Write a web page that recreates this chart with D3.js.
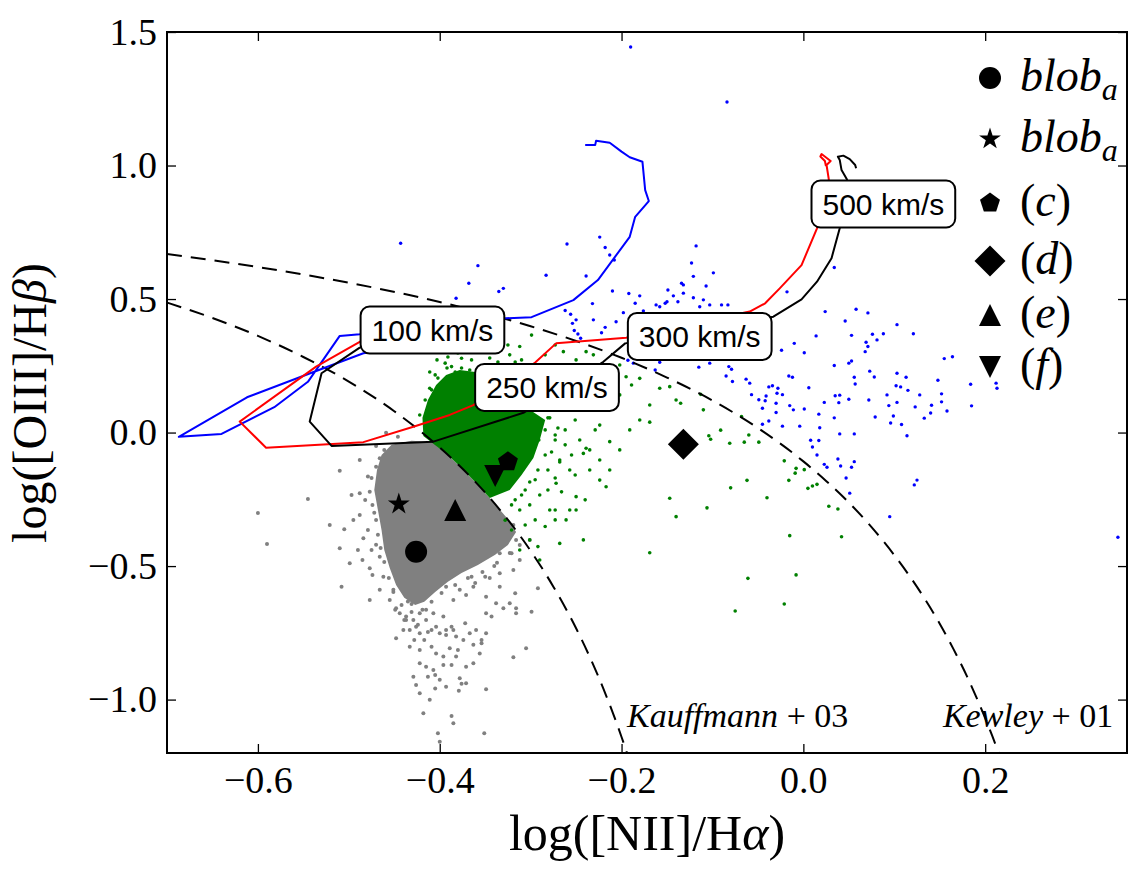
<!DOCTYPE html>
<html>
<head>
<meta charset="utf-8">
<script src="https://cdn.jsdelivr.net/npm/d3@7"></script>
<style>
  body { margin: 0; background: #fff; }
  svg text { font-family: "Liberation Serif", "DejaVu Serif", serif; fill: #000; }
  .vel text { font-family: "Liberation Sans", Arial, sans-serif; }
</style>
</head>
<body>
<svg id="chart" width="1143" height="879"></svg>
<script>
// ---- axis ticks ----
const xTicks = [-0.6, -0.4, -0.2, 0.0, 0.2];
const yTicks = [-1.0, -0.5, 0.0, 0.5, 1.0, 1.5];

// ---- demarcation curves ----
const kauffmann = [[-0.7,0.487],[-0.65,0.429],[-0.6,0.362],[-0.55,0.283],[-0.5,0.191],[-0.45,0.080],
  [-0.4,-0.056],[-0.35,-0.225],[-0.3,-0.443],[-0.275,-0.577],[-0.25,-0.733],[-0.235,-0.840],
  [-0.22,-0.959],[-0.21,-1.046],[-0.2,-1.140],[-0.194,-1.200]];
const kewley = [[-0.7,0.669],[-0.6,0.620],[-0.5,0.561],[-0.4,0.489],[-0.3,0.398],[-0.25,0.343],
  [-0.2,0.280],[-0.15,0.206],[-0.1,0.120],[-0.05,0.017],[0.0,-0.108],[0.025,-0.181],[0.05,-0.262],
  [0.075,-0.354],[0.1,-0.459],[0.125,-0.578],[0.15,-0.716],[0.165,-0.810],[0.18,-0.913],
  [0.19,-0.989],[0.2,-1.069],[0.208,-1.138],[0.215,-1.202]];
const curveNames = ["Kauffmann+03", "Kewley+01"];
const curveLabelX = [-0.194, 0.1535];
const curveLabelY = [-1.102, -1.102];

// ---- shock model tracks ----
const trackBlue = [[-0.240,1.077],[-0.229,1.077],[-0.228,1.093],[-0.213,1.085],[-0.200,1.052],
  [-0.191,1.031],[-0.177,1.014],[-0.174,0.908],[-0.170,0.867],[-0.185,0.808],[-0.191,0.733],
  [-0.226,0.571],[-0.253,0.496],[-0.299,0.432],[-0.327,0.428],[-0.488,0.368],[-0.510,0.362],
  [-0.545,0.190],[-0.582,0.095],[-0.640,-0.005],[-0.687,-0.016],[-0.612,0.132],[-0.541,0.224],
  [-0.484,0.297],[-0.440,0.320]];
const trackRed = [[-0.440,0.370],[-0.488,0.340],[-0.536,0.247],[-0.620,0.041],[-0.591,-0.057],
  [-0.484,-0.036],[-0.429,0.022],[-0.389,0.066],[-0.363,0.103],[-0.295,0.262],[-0.272,0.334],
  [-0.195,0.355],[-0.059,0.453],[-0.042,0.484],[-0.026,0.540],[-0.002,0.627],[0.015,0.765],
  [0.028,0.948],[0.0255,1.002],[0.030,1.017],[0.020,1.043],[0.0187,1.034],[0.0237,1.017],[0.0248,0.998]];
const trackBlack = [[-0.440,0.360],[-0.488,0.318],[-0.530,0.222],[-0.543,0.041],[-0.519,-0.050],
  [-0.407,-0.034],[-0.308,0.074],[-0.220,0.265],[-0.196,0.334],[-0.033,0.434],[-0.002,0.499],
  [0.015,0.565],[0.031,0.653],[0.040,0.765],[0.048,0.948],[0.042,0.983],[0.040,1.021],
  [0.038,1.033],[0.044,1.037],[0.051,1.024],[0.057,1.002],[0.058,0.990]];
const velLabels = ["100 km/s", "250 km/s", "300 km/s", "500 km/s"];
const velX = [-0.408, -0.282, -0.114, 0.088];
const velY = [0.384, 0.169, 0.360, 0.856];

// ---- dense cores of the galaxy clouds (outlines) ----
const grayCore = [[-0.408,-0.035],[-0.431,-0.031],[-0.453,-0.046],[-0.464,-0.084],[-0.469,-0.140],
  [-0.472,-0.215],[-0.468,-0.290],[-0.464,-0.365],[-0.461,-0.440],[-0.455,-0.507],[-0.448,-0.571],
  [-0.439,-0.619],[-0.427,-0.646],[-0.417,-0.634],[-0.405,-0.597],[-0.391,-0.559],[-0.376,-0.526],
  [-0.358,-0.496],[-0.339,-0.458],[-0.325,-0.421],[-0.316,-0.372],[-0.327,-0.316],[-0.345,-0.245],
  [-0.361,-0.185],[-0.377,-0.129],[-0.391,-0.084]];
const greenCore = [[-0.418,-0.013],[-0.419,0.055],[-0.413,0.122],[-0.404,0.178],[-0.393,0.216],
  [-0.378,0.234],[-0.361,0.227],[-0.334,0.103],[-0.301,0.085],[-0.284,0.047],[-0.290,-0.028],
  [-0.297,-0.095],[-0.310,-0.159],[-0.323,-0.215],[-0.345,-0.245],[-0.361,-0.185],[-0.377,-0.129],
  [-0.391,-0.084]];

// ---- individual galaxies ----
const grayPts = [[-0.488,-0.103],[-0.510,-0.143],[-0.545,-0.249],[-0.497,-0.234],[-0.488,-0.227],
  [-0.479,-0.165],[-0.521,-0.346],[-0.505,-0.362],[-0.495,-0.327],[-0.484,-0.396],[-0.510,-0.433],
  [-0.490,-0.440],[-0.475,-0.440],[-0.499,-0.489],[-0.477,-0.508],[-0.508,-0.577],[-0.466,-0.465],
  [-0.462,-0.540],[-0.449,-0.664],[-0.435,-0.633],[-0.448,-0.770],[-0.440,-0.739],[-0.433,-0.802],
  [-0.422,-0.814],[-0.426,-0.727],[-0.415,-0.664],[-0.407,-0.677],[-0.404,-0.727],[-0.396,-0.689],
  [-0.385,-0.627],[-0.371,-0.608],[-0.363,-0.577],[-0.349,-0.615],[-0.334,-0.577],[-0.317,-0.602],
  [-0.316,-0.658],[-0.299,-0.671],[-0.292,-0.583],[-0.334,-0.527],[-0.319,-0.515],[-0.334,-0.452],
  [-0.321,-0.452],[-0.312,-0.477],[-0.327,-0.402],[-0.316,-0.402],[-0.301,-0.402],[-0.319,-0.346],
  [-0.349,-0.465],[-0.393,-0.577],[-0.385,-0.739],[-0.372,-0.714],[-0.393,-0.758],[-0.363,-0.795],
  [-0.354,-0.789],[-0.380,-0.814],[-0.349,-0.752],[-0.319,-0.841],[-0.305,-0.808],[-0.422,-0.864],
  [-0.413,-0.914],[-0.429,-0.914],[-0.426,-0.945],[-0.405,-0.908],[-0.396,-0.870],[-0.387,-0.870],
  [-0.378,-0.920],[-0.376,-0.941],[-0.405,-0.958],[-0.379,-0.967],[-0.349,-0.961],[-0.418,-1.051],
  [-0.387,-1.061],[-0.385,-1.089],[-0.402,-1.126],[-0.400,-1.158],[-0.351,-1.126],[-0.431,-0.642],
  [-0.451,-0.589],[-0.455,-0.627],[-0.437,-0.702],[-0.600,-0.301],[-0.590,-0.417],[-0.459,-0.001],
  [-0.470,-0.050],[-0.472,-0.300],[-0.470,-0.420],[-0.350,-0.540],[-0.340,-0.500],[-0.365,-0.540],
  [-0.461,-0.065],[-0.466,-0.096],[-0.470,-0.128],[-0.475,-0.170],[-0.477,-0.222],[-0.474,-0.271],
  [-0.470,-0.327],[-0.468,-0.383],[-0.465,-0.432],[-0.461,-0.485],[-0.456,-0.545],[-0.451,-0.597],
  [-0.442,-0.646],[-0.431,-0.672],[-0.419,-0.664],[-0.409,-0.634],[-0.398,-0.601],[-0.383,-0.571],
  [-0.369,-0.545],[-0.353,-0.522],[-0.337,-0.488],[-0.323,-0.451],[-0.312,-0.421],[-0.439,-0.702],
  [-0.424,-0.720],[-0.413,-0.747],[-0.378,-0.589],[-0.361,-0.563],[-0.345,-0.545],[-0.446,-0.016],
  [-0.448,-0.658],[-0.444,-0.677],[-0.437,-0.689],[-0.429,-0.702],[-0.422,-0.677],[-0.415,-0.702],
  [-0.409,-0.739],[-0.400,-0.752],[-0.393,-0.739],[-0.387,-0.727],[-0.382,-0.764],[-0.374,-0.777],
  [-0.367,-0.752],[-0.360,-0.739],[-0.354,-0.777],[-0.349,-0.677],[-0.343,-0.689],[-0.338,-0.639],
  [-0.330,-0.658],[-0.323,-0.639],[-0.316,-0.677],[-0.433,-0.739],[-0.428,-0.777],[-0.422,-0.752],
  [-0.417,-0.777],[-0.409,-0.802],[-0.404,-0.827],[-0.396,-0.839],[-0.389,-0.808],[-0.382,-0.839],
  [-0.371,-0.877],[-0.363,-0.864],[-0.356,-0.827],[-0.415,-0.877],[-0.407,-0.889],[-0.400,-0.926],
  [-0.393,-0.952],[-0.371,-0.939],[-0.422,-0.976],[-0.411,-1.001],[-0.482,-0.253],[-0.488,-0.309],
  [-0.479,-0.365],[-0.485,-0.477],[-0.474,-0.533],[-0.466,-0.589],[-0.477,-0.627]];
const greenPts = [[-0.135,0.110],[-0.110,0.085],[-0.113,0.143],[-0.068,0.060],[-0.091,0.009],
  [-0.104,-0.012],[-0.102,-0.025],[-0.081,-0.040],[-0.065,-0.036],[-0.060,-0.009],[-0.049,-0.036],
  [-0.021,-0.106],[-0.008,-0.134],[-0.009,-0.152],[0.001,-0.139],[-0.016,-0.179],[-0.062,-0.179],
  [0.005,-0.209],[0.010,-0.200],[0.015,-0.194],[-0.080,-0.207],[-0.040,-0.244],[-0.106,-0.282],
  [0.028,-0.276],[0.038,-0.286],[-0.015,-0.386],[0.042,-0.390],[-0.061,-0.546],[-0.008,-0.533],
  [-0.075,-0.668],[-0.021,-0.642],[-0.325,0.328],[-0.299,0.365],[-0.264,0.303],[-0.250,0.272],
  [-0.239,0.303],[-0.231,0.291],[-0.202,0.253],[-0.195,0.209],[-0.180,0.203],[-0.189,0.178],
  [-0.158,0.166],[-0.147,0.172],[-0.140,0.122],[-0.169,0.039],[-0.213,-0.034],[-0.239,-0.059],
  [-0.242,-0.078],[-0.257,-0.140],[-0.272,-0.190],[-0.250,-0.240],[-0.217,-0.203],[-0.261,-0.327],
  [-0.250,-0.290],[-0.279,-0.290],[-0.284,-0.352],[-0.268,-0.415],[-0.242,-0.402],[-0.292,-0.427],
  [-0.147,-0.246],[-0.140,-0.315],[-0.169,-0.450],[-0.310,0.272],[-0.400,0.141],[-0.411,0.166],
  [-0.378,0.197],[-0.387,0.247],[-0.376,0.278],[-0.394,0.260],[-0.367,0.322],[-0.312,0.322],
  [-0.301,0.141],[-0.290,0.104],[-0.281,0.055],[-0.284,0.010],[-0.291,-0.028],[-0.273,-0.009],
  [-0.268,-0.103],[-0.281,-0.140],[-0.295,-0.177],[-0.306,-0.215],[-0.317,-0.252],[-0.312,-0.290],
  [-0.301,-0.271],[-0.290,-0.234],[-0.262,0.010],[-0.251,0.047],[-0.235,0.084],[-0.224,0.028],
  [-0.229,0.141],[-0.246,0.178],[-0.262,0.122],[-0.213,0.122],[-0.328,-0.328],[-0.321,-0.365],
  [-0.306,-0.346],[-0.301,-0.402],[-0.312,-0.440],[-0.290,-0.477],[-0.273,-0.327],[-0.235,-0.140],
  [-0.224,-0.103],[-0.202,-0.065],[-0.191,0.010],[-0.180,0.047],[-0.169,0.103],[-0.202,0.141],
  [-0.405,0.216],[-0.416,0.122],[-0.422,0.066],[-0.356,0.328],[-0.339,0.346],[-0.273,0.328],
  [-0.284,0.291],[-0.403,0.272],[-0.398,0.302],[-0.391,0.283],[-0.387,0.317],[-0.380,0.298],
  [-0.375,0.324],[-0.369,0.302],[-0.365,0.272],[-0.392,0.242],[-0.383,0.227],[-0.376,0.242],
  [-0.367,0.234],[-0.402,0.204],[-0.394,0.178],[-0.387,0.197],[-0.378,0.178],[-0.370,0.197],
  [-0.363,0.204],[-0.409,0.160],[-0.358,0.152],[-0.411,0.227],[-0.350,0.309],[-0.345,0.279],
  [-0.336,0.264],[-0.323,0.291],[-0.317,0.264],[-0.273,-0.028],[-0.284,-0.084],[-0.292,-0.140],
  [-0.301,-0.185],[-0.310,-0.234],[-0.321,-0.271],[-0.279,0.055],[-0.270,0.017],[-0.262,-0.046],
  [-0.277,-0.073],[-0.268,-0.110],[-0.255,-0.084],[-0.246,-0.028],[-0.235,-0.065],[-0.251,-0.159],
  [-0.273,-0.170],[-0.281,-0.215],[-0.266,-0.222],[-0.240,-0.252],[-0.224,-0.178],[-0.229,0.010],
  [-0.213,-0.140],[-0.257,-0.290],[-0.273,-0.290],[-0.295,-0.327]];
const bluePts = [[-0.190,1.444],[-0.084,1.238],[-0.443,0.709],[-0.358,0.625],[-0.368,0.559],
  [-0.382,0.503],[-0.335,0.528],[-0.330,0.540],[-0.283,0.589],[-0.260,0.706],[-0.239,0.586],
  [-0.224,0.732],[-0.218,0.693],[-0.213,0.665],[-0.208,0.646],[-0.210,0.530],[-0.192,0.521],
  [-0.232,0.483],[-0.262,0.457],[-0.256,0.443],[-0.254,0.409],[-0.250,0.422],[-0.252,0.382],
  [-0.248,0.369],[-0.245,0.353],[-0.218,0.394],[-0.206,0.415],[-0.222,0.374],[-0.198,0.449],
  [-0.176,0.455],[-0.162,0.478],[-0.231,0.422],[-0.185,0.484],[-0.180,0.512],[-0.158,0.471],
  [-0.152,0.484],[-0.143,0.512],[-0.138,0.490],[-0.132,0.522],[-0.132,0.553],[-0.149,0.534],
  [-0.107,0.549],[-0.110,0.497],[-0.103,0.478],[-0.114,0.471],[-0.187,0.260],[-0.163,0.234],
  [-0.121,0.284],[-0.103,0.260],[-0.118,0.699],[-0.123,0.635],[-0.099,0.598],[-0.121,0.585],
  [-0.134,0.559],[-0.121,0.505],[-0.090,0.478],[-0.083,0.478],[-0.018,0.527],[0.034,0.618],
  [0.024,0.453],[0.058,0.462],[0.071,0.448],[0.046,0.418],[0.103,0.404],[0.121,0.370],
  [0.014,0.362],[0.053,0.364],[0.076,0.368],[0.088,0.370],[0.081,0.347],[0.069,0.338],
  [0.071,0.322],[0.068,0.303],[-0.010,0.334],[-0.024,0.308],[0.001,0.299],[0.155,0.277],
  [0.164,0.284],[0.034,0.251],[0.050,0.260],[0.053,0.268],[0.073,0.230],[0.078,0.208],
  [0.103,0.222],[0.113,0.207],[0.148,0.196],[0.184,0.181],[0.212,0.185],[0.213,0.166],
  [0.056,0.207],[0.057,0.182],[0.006,0.168],[-0.016,0.212],[-0.012,0.207],[-0.082,0.247],
  [-0.079,0.237],[-0.085,0.212],[-0.078,0.191],[-0.115,0.245],[-0.063,0.200],[-0.059,0.185],
  [-0.057,0.142],[-0.049,0.123],[-0.042,0.119],[-0.041,0.137],[-0.038,0.171],[-0.034,0.175],
  [-0.028,0.166],[-0.029,0.147],[-0.023,0.142],[-0.045,0.091],[-0.030,0.110],[-0.030,0.075],
  [-0.038,0.043],[-0.045,0.031],[-0.015,0.101],[-0.011,0.085],[0.001,0.088],[-0.023,0.024],
  [-0.004,0.024],[0.017,0.069],[0.023,0.113],[0.035,0.138],[0.040,0.140],[0.039,0.112],
  [0.050,0.125],[0.034,0.055],[0.018,0.018],[0.040,-0.005],[0.056,-0.005],[0.072,0.122],
  [0.079,0.058],[0.092,0.141],[0.094,0.101],[0.103,0.113],[0.102,0.175],[0.107,0.171],
  [0.115,0.158],[0.099,0.062],[0.096,0.036],[0.108,0.030],[0.114,-0.012],[0.128,0.141],
  [0.123,0.096],[0.141,0.102],[0.140,0.073],[0.133,0.054],[0.152,0.145],[0.152,0.115],
  [0.158,0.081],[0.185,0.100],[0.008,-0.029],[0.017,-0.030],[0.010,-0.054],[0.015,-0.084],
  [0.023,-0.119],[0.026,-0.130],[0.038,-0.099],[0.041,-0.125],[0.056,-0.109],[0.053,-0.130],
  [0.047,-0.170],[0.051,-0.227],[0.122,-0.196],[0.125,-0.178],[0.095,-0.315],[0.346,-0.392],
  [-0.193,0.271],[-0.158,0.263],[-0.086,0.278],[-0.150,0.490]];

// ---- the six regions (legend order) ----
const objLabels = ["blob_a", "blob_a", "(c)", "(d)", "(e)", "(f)"];
const objShapes = ["circle", "star", "pentagon", "diamond", "triangle", "triangleDown"];
const objX = [-0.426, -0.445, -0.325, -0.132, -0.383, -0.339];
const objY = [-0.446, -0.268, -0.109, -0.044, -0.290, -0.163];

const pL = 167, pR = 1127, pT = 32, pB = 753;

const svg = d3.select("#chart");
const x = d3.scaleLinear().domain([-0.7, 0.356]).range([pL, pR]);
const y = d3.scaleLinear().domain([-1.2, 1.5]).range([pB, pT]);

svg.append("defs").append("clipPath").attr("id", "plotclip")
  .append("rect").attr("x", pL).attr("y", pT)
  .attr("width", pR - pL).attr("height", pB - pT);

const plot = svg.append("g").attr("clip-path", "url(#plotclip)");

// dense cores first, then single dots
const core = d3.line().x(d => x(d[0])).y(d => y(d[1])).curve(d3.curveLinearClosed);
plot.append("path").attr("d", core(grayCore)).attr("fill", "#808080");
plot.append("path").attr("d", core(greenCore)).attr("fill", "#008000");

function dots(data, color, r) {
  plot.append("g").selectAll("circle").data(data).enter().append("circle")
    .attr("cx", d => x(d[0])).attr("cy", d => y(d[1]))
    .attr("r", r).attr("fill", color);
}
dots(grayPts, "#808080", 2);
dots(greenPts, "#008000", 1.8);
dots(bluePts, "#0000ff", 1.7);

// dashed demarcation lines
const smooth = d3.line().x(d => x(d[0])).y(d => y(d[1])).curve(d3.curveMonotoneX);
[kauffmann, kewley].forEach(c => {
  plot.append("path").attr("d", smooth(c))
    .attr("fill", "none").attr("stroke", "#000")
    .attr("stroke-width", 2).attr("stroke-dasharray", "15,9");
});

// model tracks
const poly = d3.line().x(d => x(d[0])).y(d => y(d[1]));
[[trackBlue, "#0000ff"], [trackRed, "#ff0000"], [trackBlack, "#000"]].forEach(([t, c]) => {
  plot.append("path").attr("d", poly(t))
    .attr("fill", "none").attr("stroke", c).attr("stroke-width", 2)
    .attr("stroke-linejoin", "round");
});

// velocity boxes
const vel = svg.append("g").attr("class", "vel");
velLabels.forEach((lab, i) => {
  const g = vel.append("g").attr("transform", `translate(${x(velX[i])},${y(velY[i])})`);
  const rect = g.append("rect");
  const t = g.append("text").attr("text-anchor", "middle").attr("dy", "0.36em")
    .style("font-size", "30px").text(lab);
  const bb = t.node().getBBox();
  rect.attr("x", -bb.width / 2 - 11).attr("y", -23.5)
    .attr("width", bb.width + 22).attr("height", 47)
    .attr("rx", 9).attr("fill", "#fff").attr("stroke", "#000").attr("stroke-width", 2);
});

// curve names
curveNames.forEach((name, i) => {
  const m = name.match(/^([A-Za-z]+)(\+)(\d+)$/);
  const t = svg.append("text").attr("x", x(curveLabelX[i])).attr("y", y(curveLabelY[i]))
    .style("font-size", "34px");
  t.append("tspan").style("font-style", "italic").text(m[1]);
  t.append("tspan").text(" " + m[2] + " " + m[3]);
});

// marker shapes
function shape(kind, r) {
  const p = d3.path();
  if (kind === "circle") { p.arc(0, 0, r, 0, 2 * Math.PI); }
  else if (kind === "diamond") { p.moveTo(0, -r); p.lineTo(r, 0); p.lineTo(0, r); p.lineTo(-r, 0); p.closePath(); }
  else if (kind === "triangle") { p.moveTo(0, -r); p.lineTo(r, r); p.lineTo(-r, r); p.closePath(); }
  else if (kind === "triangleDown") { p.moveTo(0, r); p.lineTo(r, -r); p.lineTo(-r, -r); p.closePath(); }
  else {
    const n = 5, inner = kind === "star" ? 0.382 : null;
    const pts = [];
    for (let k = 0; k < n; k++) {
      const a = -Math.PI / 2 + k * 2 * Math.PI / n;
      pts.push([r * Math.cos(a), r * Math.sin(a)]);
      if (inner) {
        const b = a + Math.PI / n;
        pts.push([r * inner * Math.cos(b), r * inner * Math.sin(b)]);
      }
    }
    pts.forEach((q, k) => k ? p.lineTo(q[0], q[1]) : p.moveTo(q[0], q[1]));
    p.closePath();
  }
  return p.toString();
}
const sizes = { circle: 11, star: 11.5, pentagon: 10.5, diamond: 15.5, triangle: 11, triangleDown: 11 };

svg.append("g").selectAll("path").data(objShapes).enter().append("path")
  .attr("transform", (d, i) => `translate(${x(objX[i])},${y(objY[i])})`)
  .attr("d", d => shape(d, sizes[d])).attr("fill", "#000");

// legend
const legY = [78, 139, 203, 261, 315, 367];
const leg = svg.append("g");
objShapes.forEach((s, i) => {
  leg.append("path").attr("transform", `translate(990,${legY[i]})`)
    .attr("d", shape(s, sizes[s])).attr("fill", "#000");
  const t = leg.append("text").attr("x", 1020).attr("y", legY[i] + 13).style("font-size", "46px");
  const lab = objLabels[i];
  if (lab.includes("_")) {
    const [base, sub] = lab.split("_");
    t.append("tspan").style("font-style", "italic").text(base);
    t.append("tspan").style("font-style", "italic").style("font-size", "32px")
      .attr("dy", 9).text(sub);
  } else {
    t.append("tspan").text("(");
    t.append("tspan").style("font-style", "italic").text(lab.slice(1, -1));
    t.append("tspan").text(")");
  }
});

// axes: ticks inward on all four sides
const fmt = d3.format(".1f");
const gx = svg.append("g").attr("transform", `translate(0,${pB})`)
  .call(d3.axisBottom(x).tickValues(xTicks).tickSize(-9).tickPadding(13).tickFormat(fmt));
const gy = svg.append("g").attr("transform", `translate(${pL},0)`)
  .call(d3.axisLeft(y).tickValues(yTicks).tickSize(-9).tickPadding(10).tickFormat(fmt));
svg.append("g").attr("transform", `translate(0,${pT})`)
  .call(d3.axisTop(x).tickValues(xTicks).tickSize(-9).tickFormat(""));
svg.append("g").attr("transform", `translate(${pR},0)`)
  .call(d3.axisRight(y).tickValues(yTicks).tickSize(-9).tickFormat(""));
svg.selectAll(".domain").remove();
svg.selectAll(".tick line").attr("stroke", "#000").attr("stroke-width", 1.3);
[gx, gy].forEach(g => g.selectAll("text")
  .style("font-family", '"Liberation Serif", serif').style("font-size", "38px"));

svg.append("rect").attr("x", pL).attr("y", pT)
  .attr("width", pR - pL).attr("height", pB - pT)
  .attr("fill", "none").attr("stroke", "#000").attr("stroke-width", 2);

// axis titles
const xl = svg.append("text").attr("x", (pL + pR) / 2).attr("y", 850)
  .attr("text-anchor", "middle").style("font-size", "50px");
xl.append("tspan").text("log([NII]/H");
xl.append("tspan").style("font-style", "italic").text("α");
xl.append("tspan").text(")");

const yl = svg.append("text").attr("transform", "translate(46,403) rotate(-90)")
  .attr("text-anchor", "middle").style("font-size", "48px");
yl.append("tspan").text("log([OIII]/H");
yl.append("tspan").style("font-style", "italic").text("β");
yl.append("tspan").text(")");
</script>
</body>
</html>
